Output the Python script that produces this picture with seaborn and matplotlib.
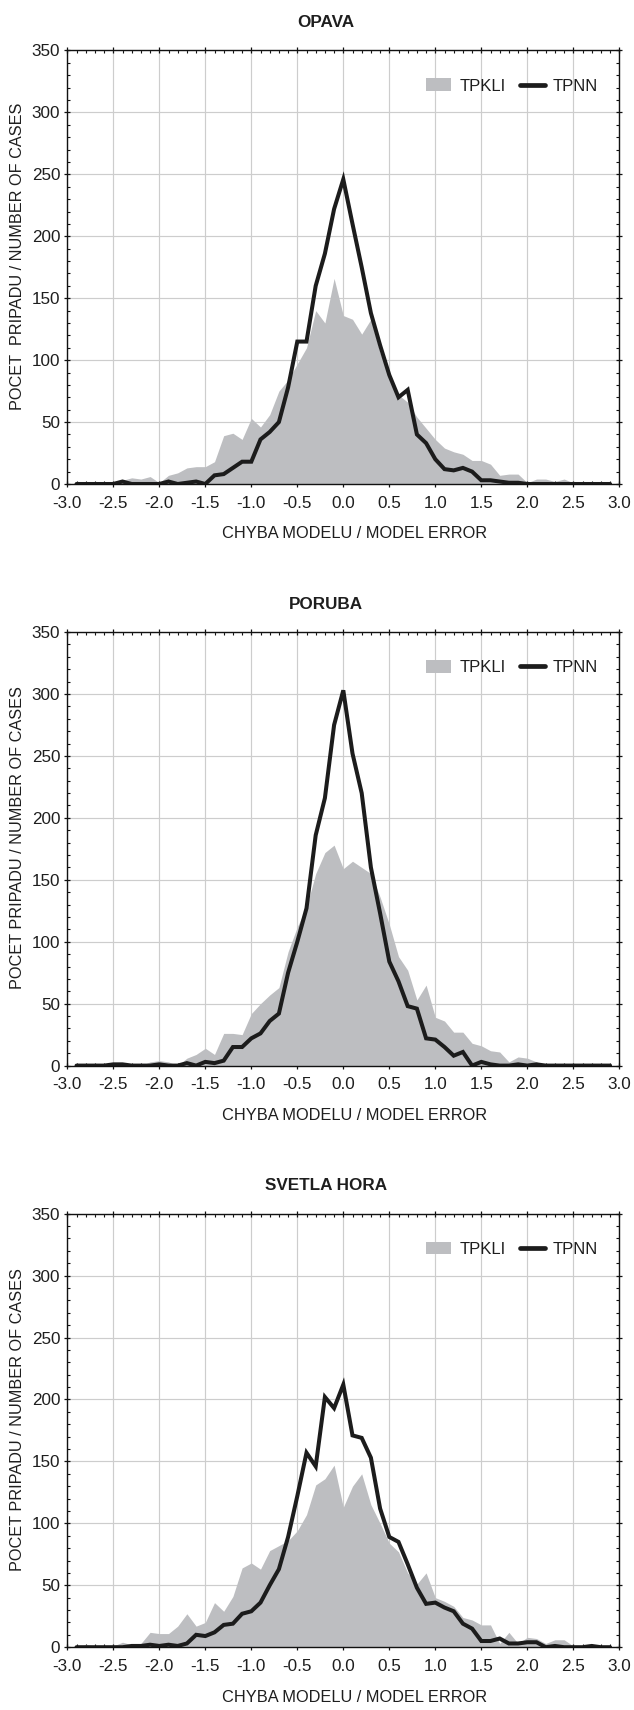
import numpy as np
import pandas as pd
import matplotlib
matplotlib.use("Agg")
import matplotlib.pyplot as plt
from matplotlib.patches import Patch
from matplotlib.lines import Line2D
from matplotlib.ticker import MultipleLocator, FormatStrFormatter
import seaborn as sns

# Model error bin centres
error_bins = [-2.9, -2.8, -2.7, -2.6, -2.5, -2.4, -2.3, -2.2, -2.1, -2.0,
              -1.9, -1.8, -1.7, -1.6, -1.5, -1.4, -1.3, -1.2, -1.1, -1.0,
              -0.9, -0.8, -0.7, -0.6, -0.5, -0.4, -0.3, -0.2, -0.1, 0.0,
              0.1, 0.2, 0.3, 0.4, 0.5, 0.6, 0.7, 0.8, 0.9, 1.0,
              1.1, 1.2, 1.3, 1.4, 1.5, 1.6, 1.7, 1.8, 1.9, 2.0,
              2.1, 2.2, 2.3, 2.4, 2.5, 2.6, 2.7, 2.8, 2.9]

station_names = ["OPAVA", "PORUBA", "SVETLA HORA"]

# Number of cases per error bin - OPAVA
opava_tpkli = [0, 0, 0, 0, 2, 3, 5, 4, 6, 1,
               7, 9, 13, 14, 14, 18, 39, 41, 36, 53,
               46, 56, 75, 84, 97, 110, 140, 130, 166, 136,
               133, 121, 133, 106, 87, 72, 66, 54, 45, 36,
               29, 26, 24, 19, 19, 16, 7, 8, 8, 1,
               4, 4, 2, 4, 1, 0, 0, 0, 0]
opava_tpnn = [0, 0, 0, 0, 0, 2, 0, 0, 0, 0,
              2, 0, 1, 2, 0, 7, 8, 13, 18, 18,
              36, 42, 50, 78, 115, 115, 160, 186, 222, 246,
              210, 175, 138, 112, 88, 70, 76, 40, 33, 20,
              12, 11, 13, 10, 3, 3, 2, 1, 1, 0,
              0, 0, 0, 0, 0, 0, 0, 0, 0]

# Number of cases per error bin - PORUBA
poruba_tpkli = [0, 0, 0, 0, 1, 1, 0, 0, 3, 4,
                3, 0, 6, 9, 14, 9, 26, 26, 25, 42,
                50, 57, 63, 92, 112, 128, 155, 172, 178, 159,
                165, 160, 155, 136, 114, 88, 77, 53, 65, 39,
                36, 27, 27, 18, 16, 12, 11, 3, 7, 6,
                3, 0, 0, 0, 0, 0, 0, 0, 0]
poruba_tpnn = [0, 0, 0, 0, 1, 1, 0, 0, 0, 1,
               0, 0, 2, 0, 3, 2, 4, 15, 15, 22,
               26, 36, 42, 75, 100, 127, 186, 216, 275, 303,
               252, 220, 160, 123, 84, 68, 48, 46, 22, 21,
               15, 8, 11, 0, 3, 1, 0, 0, 1, 0,
               1, 0, 0, 0, 0, 0, 0, 0, 0]

# Number of cases per error bin - SVETLA HORA
svetla_tpkli = [0, 2, 1, 1, 1, 4, 2, 3, 12, 11,
                11, 17, 27, 17, 20, 36, 29, 41, 64, 68,
                63, 78, 82, 86, 94, 107, 131, 136, 147, 113,
                130, 140, 115, 100, 84, 77, 60, 51, 60, 40,
                37, 33, 24, 22, 18, 18, 3, 12, 3, 8,
                7, 3, 6, 6, 1, 0, 0, 0, 0]
svetla_tpnn = [0, 0, 0, 0, 0, 0, 1, 1, 2, 1,
               2, 1, 3, 10, 9, 12, 18, 19, 27, 29,
               36, 50, 63, 89, 122, 157, 146, 202, 193, 212,
               171, 169, 153, 112, 89, 85, 67, 48, 35, 36,
               32, 29, 19, 15, 5, 5, 7, 3, 3, 4,
               4, 0, 1, 0, 0, 0, 1, 0, 0]

y_labels = ["POCET  PRIPADU / NUMBER OF CASES",
            "POCET PRIPADU / NUMBER OF CASES",
            "POCET PRIPADU / NUMBER OF CASES"]
x_label = "CHYBA MODELU / MODEL ERROR"

series = [(opava_tpkli, opava_tpnn),
          (poruba_tpkli, poruba_tpnn),
          (svetla_tpkli, svetla_tpnn)]

FILL = "#bdbec1"
LINE = "#1c1c1c"
TEXT = "#1e1e1e"

sns.set_theme(style="ticks")
plt.rcParams["font.family"] = ["Liberation Sans", "DejaVu Sans"]
plt.rcParams["axes.edgecolor"] = "#111111"
plt.rcParams["text.color"] = TEXT

fig = plt.figure(figsize=(6.34, 17.10), dpi=100)

W, H = 634.0, 1710.0
left_px, width_px, height_px = 67.3, 552.0, 433.5
tops_px = [50.5, 632.1, 1213.7]

for i, (name, (tpkli, tpnn)) in enumerate(zip(station_names, series)):
    top = tops_px[i]
    ax = fig.add_axes([left_px / W, 1 - (top + height_px) / H,
                       width_px / W, height_px / H])
    df = pd.DataFrame({"error": error_bins, "TPKLI": tpkli, "TPNN": tpnn})

    ax.fill_between(df["error"], 0, df["TPKLI"], color=FILL, lw=0, zorder=2)
    sns.lineplot(data=df, x="error", y="TPNN", ax=ax, color=LINE, lw=2.9,
                 zorder=3, legend=False)
    for ln in ax.lines:
        ln.set_solid_joinstyle("miter")

    ax.set_xlim(-3.0, 3.0)
    ax.set_ylim(0, 350)
    ax.xaxis.set_major_locator(MultipleLocator(0.5))
    ax.xaxis.set_minor_locator(MultipleLocator(0.1))
    ax.xaxis.set_major_formatter(FormatStrFormatter("%.1f"))
    ax.yaxis.set_major_locator(MultipleLocator(50))
    ax.yaxis.set_minor_locator(MultipleLocator(10))

    ax.grid(True, which="major", color="#cdcdcd", lw=0.85, zorder=0)
    ax.set_axisbelow(True)
    for sp in ax.spines.values():
        sp.set_visible(True)
        sp.set_linewidth(1.0)
        sp.set_zorder(5)

    ax.tick_params(which="major", direction="inout", length=5, width=0.9,
                   top=True, right=True, labelsize=12.3, colors="#111111",
                   labelcolor=TEXT)
    ax.tick_params(axis="x", which="major", pad=6)
    ax.tick_params(axis="y", which="major", pad=2.5)
    ax.tick_params(which="minor", direction="in", length=2.5, width=0.8,
                   top=True, right=True, colors="#111111")

    ax.set_xlabel("")
    ax.set_ylabel("")

    ax.text((326 - left_px) / width_px, 1 + 28 / height_px, name,
            transform=ax.transAxes, ha="center", va="center",
            fontsize=12.3, fontweight="bold", color=TEXT)
    ax.text(0.5 + 11 / width_px, -50 / height_px, x_label,
            transform=ax.transAxes, ha="center", va="center",
            fontsize=11.8, color=TEXT)
    ax.text((17.5 - left_px) / width_px, 0.5 + 11 / height_px, y_labels[i],
            transform=ax.transAxes, ha="center", va="center", rotation=90,
            fontsize=11.7, color=TEXT)

    handles = [Patch(facecolor=FILL, edgecolor="none"),
               Line2D([0], [0], color=LINE, lw=3.4)]
    ax.legend(handles, ["TPKLI", "TPNN"], loc="center right",
              bbox_to_anchor=(0.962, 0.918), ncol=2, frameon=False,
              fontsize=12, handlelength=1.5, handleheight=0.8,
              handletextpad=0.5, columnspacing=0.85, borderpad=0,
              borderaxespad=0)

fig.savefig("out.png", dpi=100)
